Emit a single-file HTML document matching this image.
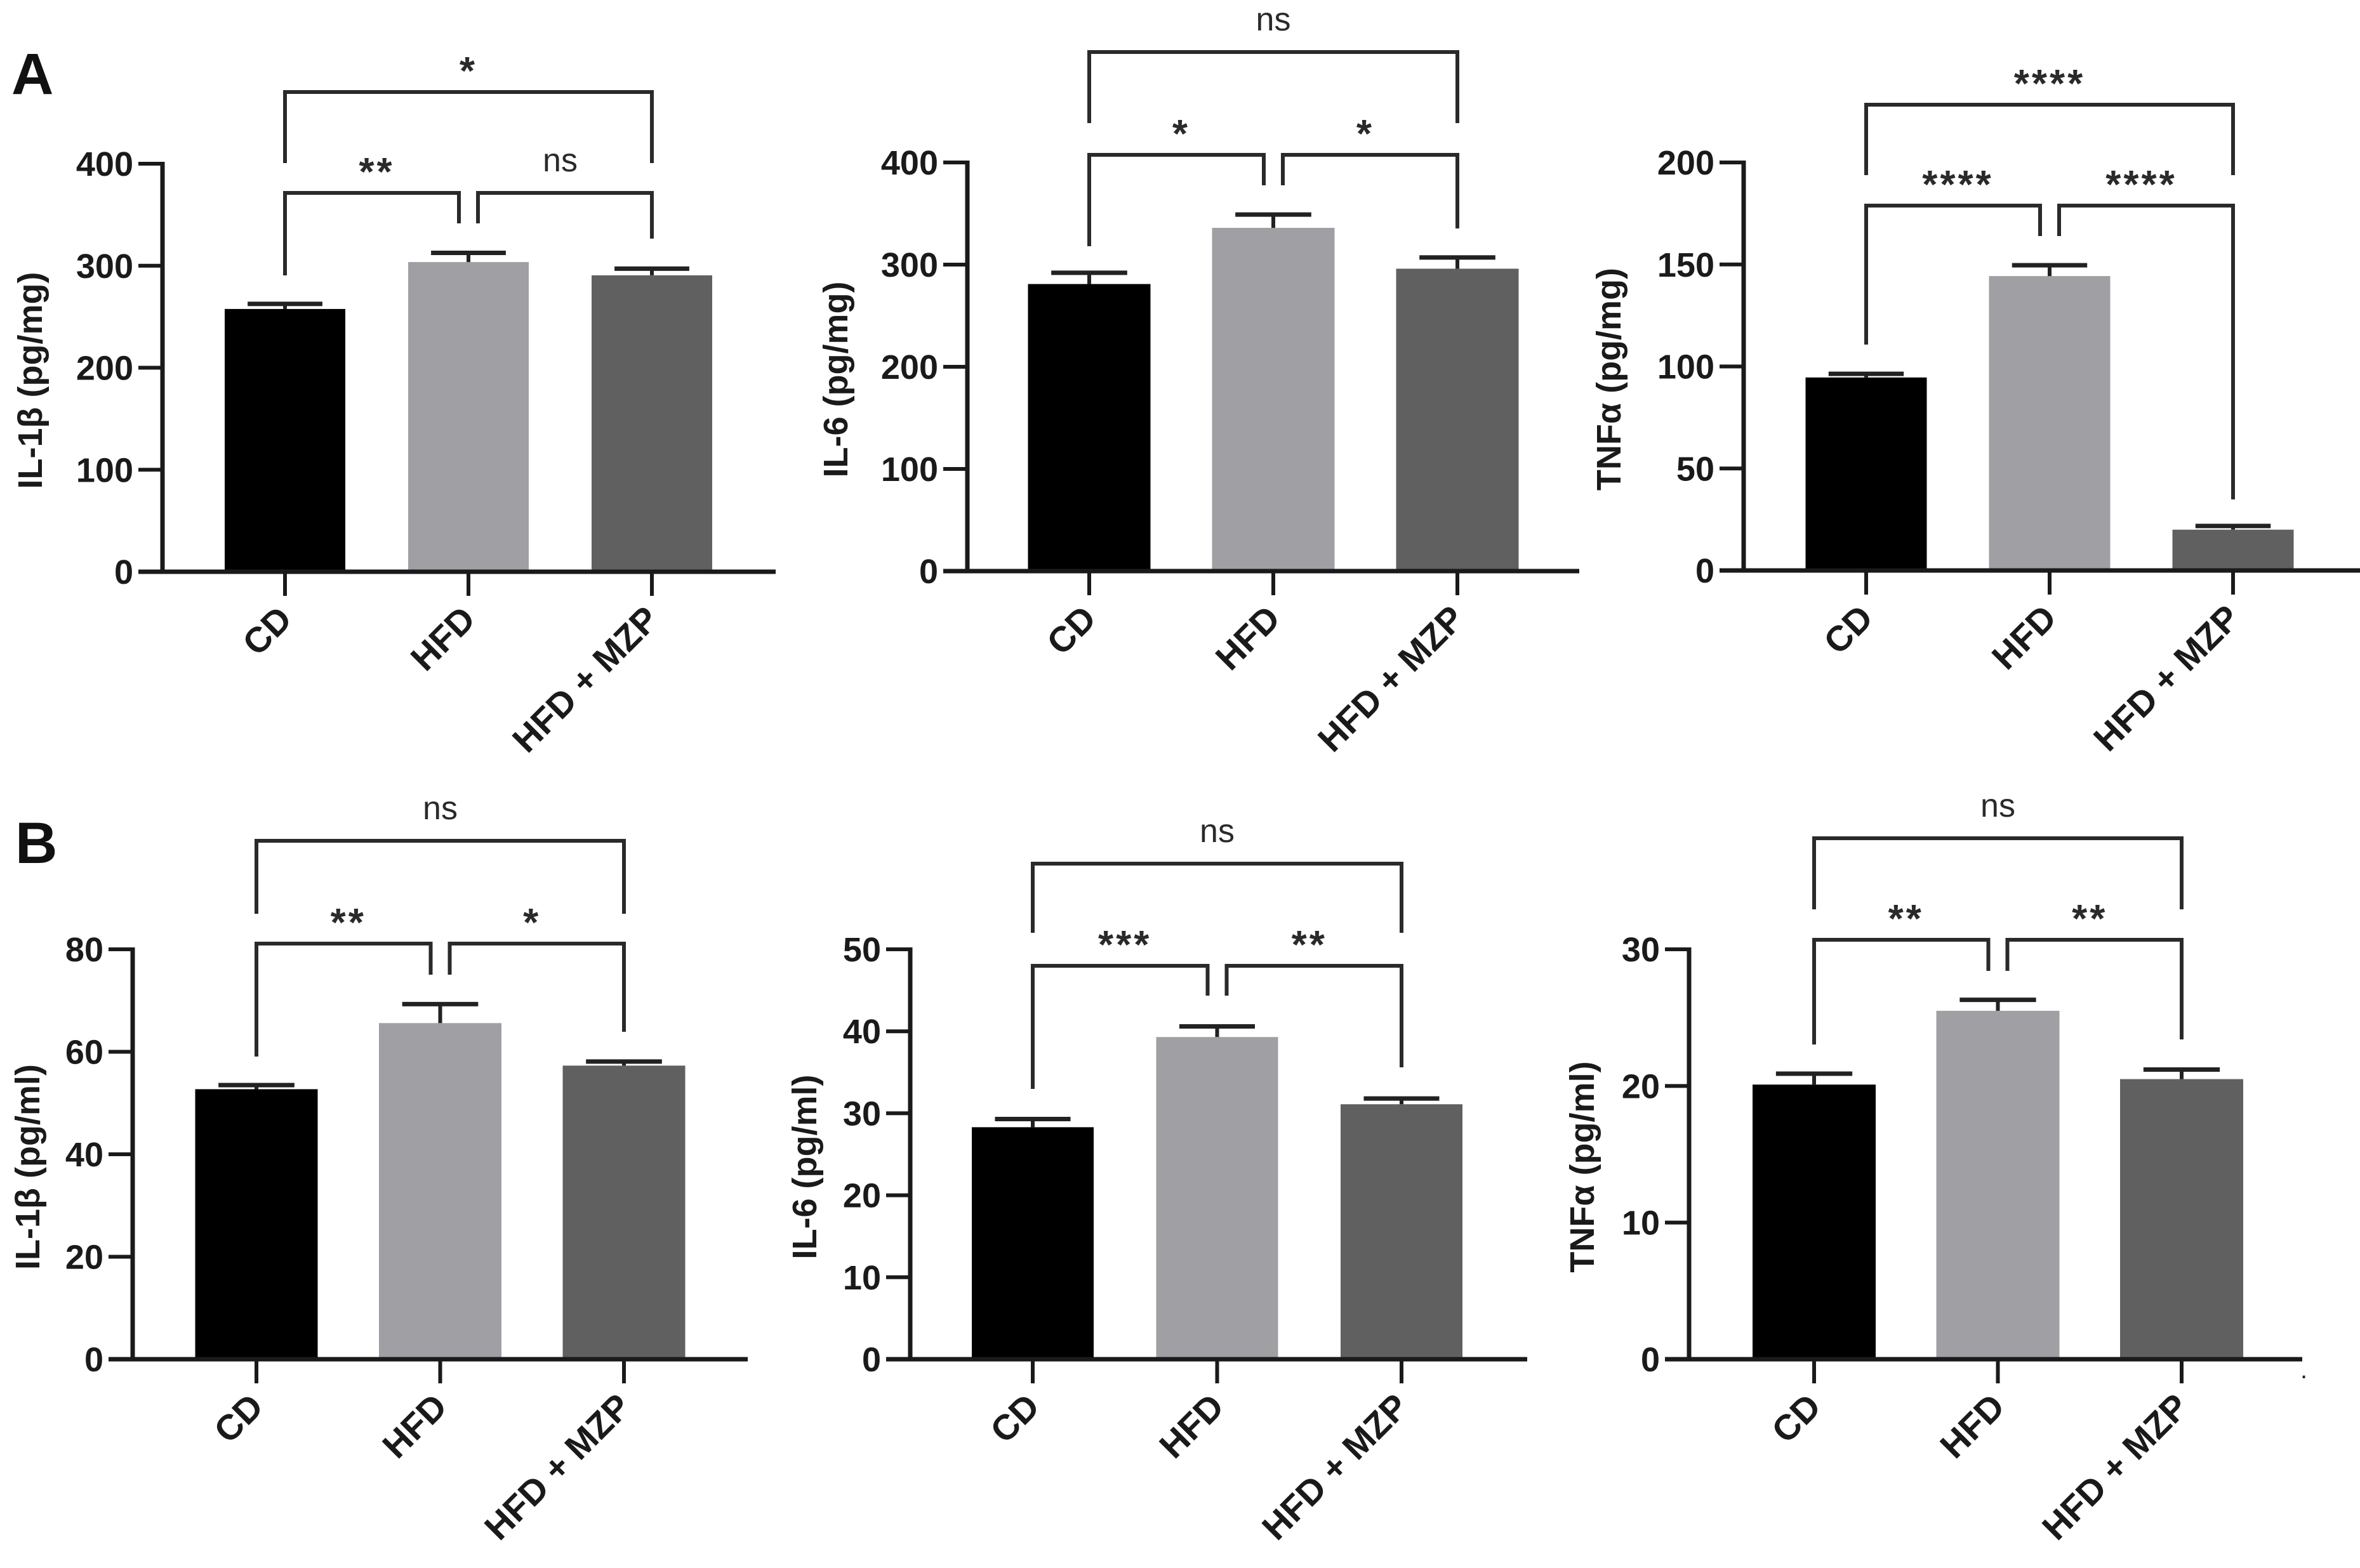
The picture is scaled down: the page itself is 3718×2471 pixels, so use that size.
<!DOCTYPE html>
<html><head><meta charset="utf-8"><style>
html,body{margin:0;padding:0;background:#fff}
svg{display:block}
text{font-family:"Liberation Sans",Arial,sans-serif}
</style></head><body>
<svg id="fig" width="3718" height="2471" viewBox="0 0 3718 2471" xmlns="http://www.w3.org/2000/svg">
<rect width="3718" height="2471" fill="#fff"/>
<text x="18" y="148" font-size="92" font-weight="bold" fill="#111">A</text>
<text x="24" y="1360" font-size="92" font-weight="bold" fill="#111">B</text>
<text x="3624" y="2172" font-size="40" fill="#222">.</text>
</svg>
<script>
// ---- data ----
const categories = ["CD", "HFD", "HFD + MZP"];
const a1Values = [257.6, 303.6, 290.6];
const a1Errors = [5, 9, 6.5];
const a2Values = [281, 336, 296];
const a2Errors = [11, 13, 11];
const a3Values = [94.6, 144.3, 20];
const a3Errors = [1.8, 5.3, 1.8];
const b1Values = [52.7, 65.6, 57.3];
const b1Errors = [0.8, 3.7, 0.8];
const b2Values = [28.3, 39.3, 31.1];
const b2Errors = [1.0, 1.3, 0.7];
const b3Values = [20.1, 25.5, 20.5];
const b3Errors = [0.8, 0.8, 0.7];
const a1Ticks = ["0","100","200","300","400"];
const a2Ticks = ["0","100","200","300","400"];
const a3Ticks = ["0","50","100","150","200"];
const b1Ticks = ["0","20","40","60","80"];
const b2Ticks = ["0","10","20","30","40","50"];
const b3Ticks = ["0","10","20","30"];
const a1Sig = ["**", "ns", "*"];
const a2Sig = ["*", "*", "ns"];
const a3Sig = ["****", "****", "****"];
const b1Sig = ["**", "*", "ns"];
const b2Sig = ["***", "**", "ns"];
const b3Sig = ["**", "**", "ns"];
const barColors = ["#000000", "#a0a0a4", "#606060"];

// ---- layout (pixel geometry) ----
const panels = [
 {id:"a1", title:"IL-1β (pg/mg)", vals:a1Values, errs:a1Errors, ticks:a1Ticks, sig:a1Sig, max:400,
  ax:256, y0:901, yTop:258, xEnd:1222, c0:449, step:289, bw:190, titleX:48,
  br:{low:304, legs:[434,352,376], top:145, topLeg:257}},
 {id:"a2", title:"IL-6 (pg/mg)", vals:a2Values, errs:a2Errors, ticks:a2Ticks, sig:a2Sig, max:400,
  ax:1524, y0:900, yTop:256, xEnd:2488, c0:1716, step:290, bw:193, titleX:1317,
  br:{low:244, legs:[388,292,360], top:82, topLeg:194}},
 {id:"a3", title:"TNFα (pg/mg)", vals:a3Values, errs:a3Errors, ticks:a3Ticks, sig:a3Sig, max:200,
  ax:2747, y0:899, yTop:256, xEnd:3718, c0:2940, step:289, bw:191, titleX:2535,
  br:{low:324, legs:[543,372,787], top:165, topLeg:276}},
 {id:"b1", title:"IL-1β (pg/ml)", vals:b1Values, errs:b1Errors, ticks:b1Ticks, sig:b1Sig, max:80,
  ax:209, y0:2142, yTop:1496, xEnd:1178, c0:404, step:289.5, bw:193, titleX:44,
  br:{low:1487, legs:[1665,1536,1626], top:1325, topLeg:1440}},
 {id:"b2", title:"IL-6 (pg/ml)", vals:b2Values, errs:b2Errors, ticks:b2Ticks, sig:b2Sig, max:50,
  ax:1434, y0:2142, yTop:1496, xEnd:2406, c0:1627, step:290.5, bw:192, titleX:1268,
  br:{low:1522, legs:[1716,1569,1682], top:1361, topLeg:1470}},
 {id:"b3", title:"TNFα (pg/ml)", vals:b3Values, errs:b3Errors, ticks:b3Ticks, sig:b3Sig, max:30,
  ax:2661, y0:2142, yTop:1496, xEnd:3627, c0:2858, step:289.5, bw:194, titleX:2493,
  br:{low:1481, legs:[1646,1530,1638], top:1321, topLeg:1433}}
];

const svg = document.getElementById('fig');
const NS = "http://www.w3.org/2000/svg";
function mk(tag, attrs, parent){
  const e = document.createElementNS(NS, tag);
  for (const k in attrs) e.setAttribute(k, attrs[k]);
  (parent||svg).appendChild(e);
  return e;
}
function line(g,x1,y1,x2,y2,color,w){
  return mk('line',{x1:x1,y1:y1,x2:x2,y2:y2,stroke:color,'stroke-width':w},g);
}

panels.forEach(p=>{
  const g = mk('g',{});
  
  
  const yS = v => p.y0 - (v / p.max) * (p.y0 - p.yTop);
  const xS = i => p.c0 + i * p.step;

  p.vals.forEach((v,i)=>{
    const top = yS(v);
    const r = mk('rect',{x:xS(i)-p.bw/2, y:top, width:p.bw, height:p.y0-top, fill:barColors[i]}, g);
    
    
    const eg = mk('g',{}, g);
    
    
    const ey = yS(v + p.errs[i]);
    line(eg, xS(i), top, xS(i), ey, '#222', 6);
    line(eg, xS(i)-p.bw*0.31, ey, xS(i)+p.bw*0.31, ey, '#222', 7);
  });

  const ya = line(g, p.ax, p.yTop-3, p.ax, p.y0+3, '#1a1a1a', 7);
  
  
  const xa = line(g, p.ax-38, p.y0, p.xEnd, p.y0, '#1a1a1a', 7);
  
  

  const n = p.ticks.length - 1;
  p.ticks.forEach((t,k)=>{
    const v = p.max * k / n;
    const y = yS(v);
    line(g, p.ax-38, y, p.ax, y, '#1a1a1a', 6);
    const tx = mk('text',{x:p.ax-46, y:y+19, 'font-size':54, 'font-weight':'bold', 'text-anchor':'end', fill:'#1a1a1a'}, g);
    tx.textContent = t;
    
    
  });

  const cy = (p.y0 + p.yTop)/2 + 20;
  const yt = mk('text',{x:p.titleX+18, y:cy, 'font-size':54, 'font-weight':'bold', 'text-anchor':'middle', fill:'#1a1a1a', transform:`rotate(-90 ${p.titleX+18} ${cy})`}, g);
  yt.textContent = p.title;
  
  

  categories.forEach((c,i)=>{
    line(g, xS(i), p.y0, xS(i), p.y0+38, '#1a1a1a', 6);
    const ax = xS(i)+14, ay = p.y0+78;
    const lt = mk('text',{x:ax, y:ay, 'font-size':56, 'font-weight':'bold', 'text-anchor':'end', fill:'#1a1a1a', transform:`rotate(-45 ${ax} ${ay})`}, g);
    lt.textContent = c;
    
    
  });

  const b = p.br;
  const c0 = xS(0), c1 = xS(1), c2 = xS(2);
  const bc = '#2a2a2a', bwid = 6;
  const b1 = mk('path',{d:`M${c0} ${b.legs[0]} V${b.low} H${c1-15} V${b.legs[1]}`, fill:'none', stroke:bc, 'stroke-width':bwid}, g);
  
  
  const b2 = mk('path',{d:`M${c1+15} ${b.legs[1]} V${b.low} H${c2} V${b.legs[2]}`, fill:'none', stroke:bc, 'stroke-width':bwid}, g);
  
  
  const b3 = mk('path',{d:`M${c0} ${b.topLeg} V${b.top} H${c2} V${b.topLeg}`, fill:'none', stroke:bc, 'stroke-width':bwid}, g);
  
  
  const labs = [[(c0+c1)/2, b.low], [(c1+c2)/2, b.low], [(c0+c2)/2, b.top]];
  labs.forEach((L,k)=>{
    const s = p.sig[k];
    const isNs = s === 'ns';
    const t = mk('text',{x:L[0], y: isNs ? L[1]-34 : L[1]-12, 'font-size': isNs ? 52 : 62, 'font-weight': isNs ? 'normal' : 'bold', 'text-anchor':'middle', fill:'#2a2a2a', 'letter-spacing': isNs ? 0 : 4}, g);
    t.textContent = s;
    
    
  });
});
</script>
</body></html>
